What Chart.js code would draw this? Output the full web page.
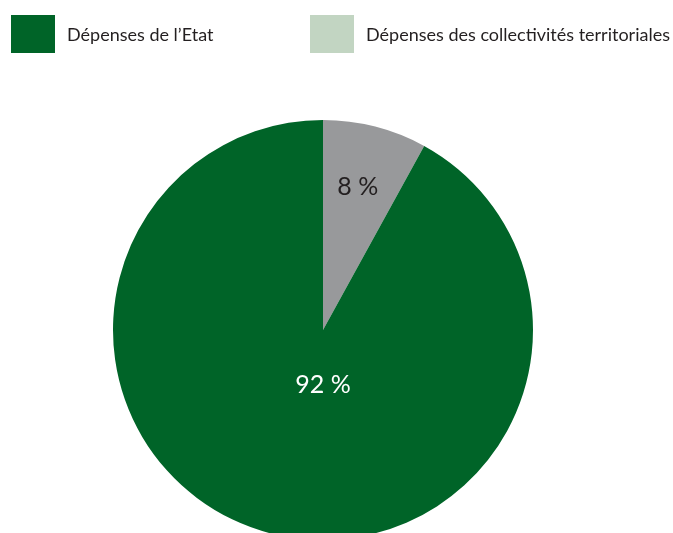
<!DOCTYPE html>
<html>
<head>
<meta charset="utf-8">
<script src="https://cdn.jsdelivr.net/npm/chart.js@4"></script>
<style>
  html, body { margin: 0; padding: 0; background: #fff; overflow: hidden; }
  #wrap { position: relative; width: 673px; height: 533px; overflow: hidden; }
  #chart { position: absolute; left: 0; top: 0; }
  .leg { position: absolute; top: 15px; height: 38px; display: flex; align-items: center;
         font-family: Lato, "Open Sans", sans-serif; font-size: 18px; color: #231f20; }
  .leg span.box { display: inline-block; width: 44px; height: 38px; margin-right: 12px; }
</style>
</head>
<body>
<div id="wrap">
  <canvas id="chart" width="673" height="560"></canvas>
  <div class="leg" style="left:11px"><span class="box" style="background:#006428"></span>Dépenses de l’Etat</div>
  <div class="leg" style="left:310px"><span class="box" style="background:#c2d5c2"></span>Dépenses des collectivités territoriales</div>
</div>
<script>
// chart data
const labels = ['Dépenses des collectivités territoriales', 'Dépenses de l’Etat'];
const values = [8, 92];
const valueLabels = ['8 %', '92 %'];
const sliceColors = ['#98999b', '#006428'];
const labelColors = ['#231f20', '#ffffff'];

// where to put each label: angle from top (deg, clockwise) and fraction of radius
const labelSpots = [{ ang: 13.7, r: 0.7 }, { ang: 180, r: 0.26 }];

const sliceLabels = {
    id: 'sliceLabels',
    afterDatasetsDraw(chart) {
        const ctx = chart.ctx;
        const arcs = chart.getDatasetMeta(0).data;
        ctx.save();
        ctx.font = '25px Lato, "Open Sans", sans-serif';
        ctx.textAlign = 'center';
        ctx.textBaseline = 'middle';
        arcs.forEach((arc, i) => {
            const a = labelSpots[i].ang * Math.PI / 180;
            const r = arc.outerRadius * labelSpots[i].r;
            ctx.fillStyle = labelColors[i];
            ctx.fillText(valueLabels[i], arc.x + r * Math.sin(a), arc.y - r * Math.cos(a));
        });
        ctx.restore();
    }
};

new Chart(document.getElementById('chart'), {
    type: 'pie',
    data: {
        labels: labels,
        datasets: [{
            data: values,
            backgroundColor: sliceColors,
            borderWidth: 0
        }]
    },
    options: {
        responsive: false,
        animation: false,
        layout: { padding: { left: 113, right: 140, top: 120, bottom: 20 } },
        plugins: {
            legend: { display: false },
            tooltip: { enabled: false }
        }
    },
    plugins: [sliceLabels]
});
</script>
</body>
</html>
